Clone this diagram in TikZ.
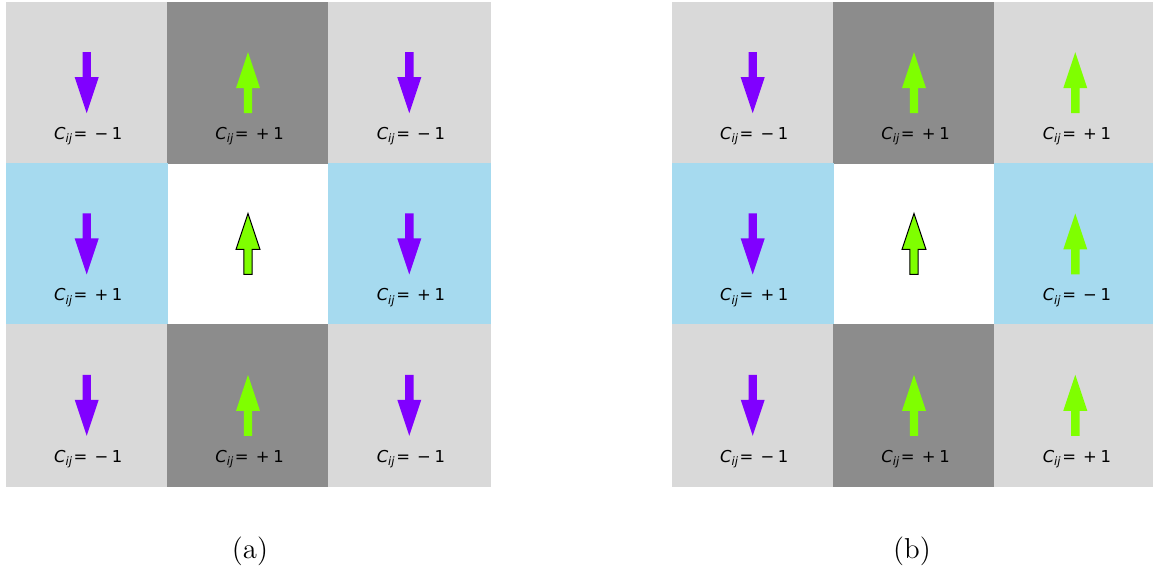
\documentclass[tikz,border=0pt]{standalone}
\usepackage{fontspec}
\newfontfamily\spinfont{DejaVu Sans}

\definecolor{cellgray}{HTML}{D9D9D9}
\definecolor{celldark}{HTML}{8C8C8C}
\definecolor{cellblue}{HTML}{A6DAEF}
\definecolor{spinpurple}{HTML}{8000FF}
\definecolor{spingreen}{HTML}{7FFF00}

% correlation label C_ij = <sign>1
\newcommand{\corr}[1]{\textit{C}\raisebox{-1.7pt}{\fontsize{5.8}{6}\selectfont\textit{ij}}\hspace{0.8pt}=\hspace{3.6pt}#1\hspace{1.8pt}1}

\tikzset{
    cell/.style={minimum size=80.67pt, inner sep=0pt, outer sep=0pt},
    lightcell/.style={cell, fill=cellgray, draw=cellgray, line width=0.3pt},
    darkcell/.style={cell, fill=celldark, draw=celldark, line width=0.3pt},
    nbrcell/.style={cell, fill=cellblue, draw=cellblue, line width=0.3pt},
    corr/.style={anchor=base, yshift=-28.4pt, xshift=0.8pt, inner sep=0pt, font=\spinfont\fontsize{8.2}{10}\selectfont},
    spinup/.pic={
        \fill[spingreen] (0,30.5) -- (12,-5.5) -- (4.2,-5.5) -- (4.2,-30.5)
            -- (-4.2,-30.5) -- (-4.2,-5.5) -- (-12,-5.5) -- cycle;
    },
    spindown/.pic={
        \fill[spinpurple] (0,-30.5) -- (12,5.5) -- (4.2,5.5) -- (4.2,30.5)
            -- (-4.2,30.5) -- (-4.2,5.5) -- (-12,5.5) -- cycle;
    },
    spinmid/.pic={
        \filldraw[fill=spingreen, draw=black, line width=0.5pt, line join=miter]
            (0,30.5) -- (12,-5.5) -- (4.2,-5.5) -- (4.2,-30.5)
            -- (-4.2,-30.5) -- (-4.2,-5.5) -- (-12,-5.5) -- cycle;
    }
}

\begin{document}
\begin{tikzpicture}[x=0.5pt, y=0.5pt]
        \useasboundingbox (0,0) rectangle (1153,567);

        % (a)
        \node[lightcell] (a11) at (86.7,484.3) {};
        \node[darkcell] (a12) at (248,484.3) {};
        \node[lightcell] (a13) at (409.3,484.3) {};
        \node[nbrcell] (a21) at (86.7,323) {};
        \node[cell] (a22) at (248,323) {};
        \node[nbrcell] (a23) at (409.3,323) {};
        \node[lightcell] (a31) at (86.7,161.7) {};
        \node[darkcell] (a32) at (248,161.7) {};
        \node[lightcell] (a33) at (409.3,161.7) {};

        \pic at (a11) {spindown};
        \pic at (a12) {spinup};
        \pic at (a13) {spindown};
        \pic at (a21) {spindown};
        \pic at (a22) {spinmid};
        \pic at (a23) {spindown};
        \pic at (a31) {spindown};
        \pic at (a32) {spinup};
        \pic at (a33) {spindown};

        \node[corr] (la11) at (a11) {\corr{−}};
        \node[corr] (la12) at (a12) {\corr{+}};
        \node[corr] (la13) at (a13) {\corr{−}};
        \node[corr] (la21) at (a21) {\corr{+}};
        \node[corr] (la23) at (a23) {\corr{+}};
        \node[corr] (la31) at (a31) {\corr{−}};
        \node[corr] (la32) at (a32) {\corr{+}};
        \node[corr] (la33) at (a33) {\corr{−}};

        % (b)
        \node[lightcell] (b11) at (752.7,484.3) {};
        \node[darkcell] (b12) at (914,484.3) {};
        \node[lightcell] (b13) at (1075.3,484.3) {};
        \node[nbrcell] (b21) at (752.7,323) {};
        \node[cell] (b22) at (914,323) {};
        \node[nbrcell] (b23) at (1075.3,323) {};
        \node[lightcell] (b31) at (752.7,161.7) {};
        \node[darkcell] (b32) at (914,161.7) {};
        \node[lightcell] (b33) at (1075.3,161.7) {};

        \pic at (b11) {spindown};
        \pic at (b12) {spinup};
        \pic at (b13) {spinup};
        \pic at (b21) {spindown};
        \pic at (b22) {spinmid};
        \pic at (b23) {spinup};
        \pic at (b31) {spindown};
        \pic at (b32) {spinup};
        \pic at (b33) {spinup};

        \node[corr] (lb11) at (b11) {\corr{−}};
        \node[corr] (lb12) at (b12) {\corr{+}};
        \node[corr] (lb13) at (b13) {\corr{+}};
        \node[corr] (lb21) at (b21) {\corr{+}};
        \node[corr] (lb23) at (b23) {\corr{−}};
        \node[corr] (lb31) at (b31) {\corr{−}};
        \node[corr] (lb32) at (b32) {\corr{+}};
        \node[corr] (lb33) at (b33) {\corr{+}};

        \node[font=\Large] (capa) at (250,16) {(a)};
        \node[font=\Large] (capb) at (912,16) {(b)};

    \end{tikzpicture}
\end{document}
